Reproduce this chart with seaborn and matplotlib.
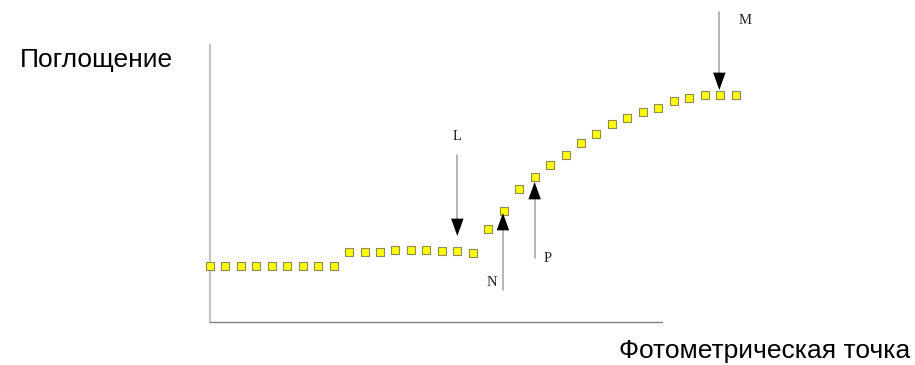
import numpy as np
import pandas as pd
import seaborn as sns
import matplotlib.pyplot as plt

# photometric point index and absorbance (arbitrary units)
points = list(range(35))
absorb = [56, 56, 56, 56, 56, 56, 56, 56, 56,
          70, 70, 70, 72, 72, 72, 71, 71, 69,
          93, 111, 133, 145, 157, 167, 179, 188, 198, 204, 210, 214, 221, 224, 227, 227, 227]

# arrows: label, x, line end, tip, label x, label y
arrow_names = ["L", "N", "P", "M"]
arrow_x = [16.0, 18.95, 21.0, 32.95]
arrow_from = [167, 32, 64, 310]
arrow_tip = [86, 109, 140, 232]
label_x = [16.0, 18.25, 21.85, 34.6]
label_y = [185, 40, 64, 302]

df = pd.DataFrame({"point": points, "absorb": absorb})

sns.set_style("white")
plt.rcParams["font.family"] = ["Liberation Sans", "DejaVu Sans"]

fig = plt.figure(figsize=(9.15, 3.65), dpi=100)
ax = fig.add_axes([210 / 915, 43 / 365, 452 / 915, 277 / 365])

sns.scatterplot(data=df, x="point", y="absorb", marker="s", s=30,
                color="#ffff00", edgecolor="#8c8c5a", linewidth=0.8,
                clip_on=False, zorder=3, ax=ax)

ax.set_xlim(0, 29.24)
ax.set_ylim(0, 277)
ax.set_xticks([])
ax.set_yticks([])
ax.set_xlabel("")
ax.set_ylabel("")
for s in ["top", "right"]:
    ax.spines[s].set_visible(False)
ax.spines["left"].set_color("#c4c4c4")
ax.spines["left"].set_linewidth(1.6)
ax.spines["bottom"].set_color("#808080")
ax.spines["bottom"].set_linewidth(1.0)

# arrows: grey shaft and black head
head = 13  # head length in data units (~18 px)
for name, x, y0, y1, lx, ly in zip(arrow_names, arrow_x, arrow_from, arrow_tip, label_x, label_y):
    sign = 1 if y1 > y0 else -1
    base = y1 - sign * head
    ax.plot([x, x], [y0, base], color="#a8a8a8", lw=1.2, clip_on=False, zorder=2)
    ax.annotate("", xy=(x, y1), xytext=(x, base),
                arrowprops=dict(arrowstyle="-|>,head_length=1.25,head_width=0.45",
                                color="black", lw=0, shrinkA=0, shrinkB=0),
                annotation_clip=False, zorder=4)
    ax.text(lx, ly, name, family="Liberation Serif", fontsize=10.5,
            ha="center", va="center", color="#222222", clip_on=False)

fig.text(173 / 915, 1 - 67 / 365, "Поглощение", fontsize=19,
         ha="right", va="baseline", color="black")
fig.text(910 / 915, 1 - 358 / 365, "Фотометрическая точка", fontsize=19,
         ha="right", va="baseline", color="black")

fig.savefig("out.png", dpi=100)
